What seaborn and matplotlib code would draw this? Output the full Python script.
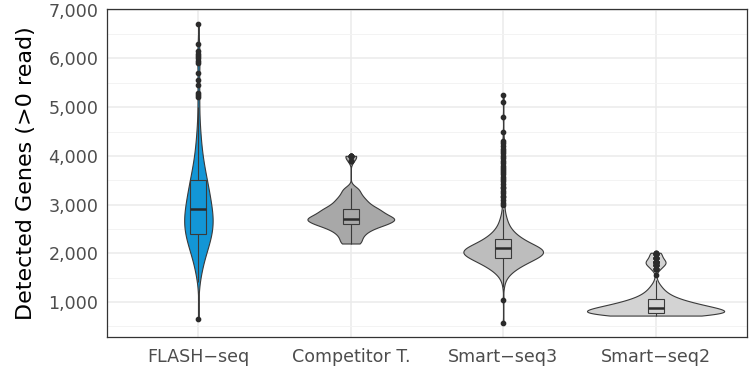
import numpy as np
import pandas as pd
import seaborn as sns
import matplotlib
matplotlib.use('Agg')
import matplotlib.pyplot as plt
from matplotlib.ticker import FixedLocator

# categories and colours
methods = ['FLASH\u2212seq', 'Competitor T.', 'Smart\u2212seq3', 'Smart\u2212seq2']
fill_colors = ['#1396d6', '#a8a8a8', '#bdbdbd', '#d3d3d3']

# detected genes per cell as (value, number of cells)
flash_vals = [650, 1400, 1500, 1600, 1700, 1800, 1900, 2000, 2100, 2200, 2300, 2400, 2500,
              2600, 2700, 2800, 2900, 3000, 3100, 3200, 3300, 3400, 3500, 3600, 3700, 3800,
              3900, 4000, 4100, 4200, 4300, 4400, 4500, 4600, 4700, 4800, 4900, 5000,
              5200, 5250, 5300, 5450, 5550, 5700, 5900, 5950, 6000, 6050, 6100, 6150, 6300, 6700]
flash_counts = [1, 1, 2, 3, 4, 5, 6, 8, 10, 12, 13, 14, 16,
                16, 16, 15, 15, 13, 13, 12, 11, 10, 9, 8, 7, 6,
                5, 4, 4, 3, 3, 2, 2, 2, 1, 1, 1, 1,
                1, 1, 1, 1, 1, 1, 1, 1, 1, 1, 1, 1, 1, 1]

comp_vals = [2200, 2300, 2400, 2500, 2600, 2700, 2800, 2900, 3000, 3100, 3200, 3300, 3350,
             3900, 4000]
comp_counts = [10, 10, 13, 20, 34, 44, 32, 27, 18, 14, 10, 7, 3,
               3, 7]

ss3_vals = [570, 1040, 1300, 1400, 1500, 1600, 1700, 1800, 1900, 2000, 2100, 2200, 2300,
            2400, 2500, 2600, 2700, 2800, 2900,
            3000, 3040, 3100, 3150, 3180, 3230, 3280, 3330, 3370, 3420, 3480, 3520, 3570,
            3620, 3660, 3710, 3760, 3800, 3850, 3900, 3950, 3990, 4050, 4100, 4140, 4200,
            4260, 4300, 4480, 4800, 5100, 5250]
ss3_counts = [1, 1, 1, 2, 5, 11, 20, 32, 46, 58, 54, 38, 26,
              17, 11, 7, 5, 3, 2,
              1, 1, 1, 1, 1, 1, 1, 1, 1, 1, 1, 1, 1,
              1, 1, 1, 1, 1, 1, 1, 1, 1, 1, 1, 1, 1,
              1, 1, 1, 1, 1, 1]

ss2_vals = [720, 770, 820, 870, 920, 970, 1020, 1070, 1120, 1170, 1220, 1270, 1320, 1370,
            1450, 1560, 1680, 1760, 1820, 1900, 1990, 2010]
ss2_counts = [42, 54, 52, 44, 36, 28, 22, 16, 12, 9, 7, 5, 4, 3,
              2, 1, 6, 8, 12, 8, 6, 3]

ytick_vals = [1000, 2000, 3000, 4000, 5000, 6000, 7000]
ytick_labels = ['1,000', '2,000', '3,000', '4,000', '5,000', '6,000', '7,000']
yminor_vals = [500, 1500, 2500, 3500, 4500, 5500, 6500]

frames = []
for name, v, c in zip(methods,
                      [flash_vals, comp_vals, ss3_vals, ss2_vals],
                      [flash_counts, comp_counts, ss3_counts, ss2_counts]):
    frames.append(pd.DataFrame({'method': name, 'genes': np.repeat(v, c)}))
df = pd.concat(frames, ignore_index=True)


def nrd0(kde):
    # R's default bandwidth (what ggplot uses), returned as scipy factor
    x = kde.dataset[0]
    sd = x.std(ddof=1)
    q75, q25 = np.percentile(x, [75, 25])
    h = 0.9 * min(sd, (q75 - q25) / 1.34) * len(x) ** -0.2
    return h / sd


sns.set_theme(style='white')
plt.rcParams['font.family'] = ['DejaVu Sans']

fig = plt.figure(figsize=(7.56, 3.72), dpi=100)
ax = fig.add_axes([0.1415, 0.0941, 0.8466, 0.8804])

pal = dict(zip(methods, fill_colors))
sns.violinplot(data=df, x='method', y='genes', hue='method', palette=pal, order=methods,
               cut=0, inner=None, density_norm='area', common_norm=True, width=0.9,
               bw_method=nrd0, gridsize=400, linewidth=0.8, linecolor='#3a3a3a',
               saturation=1, legend=False, ax=ax)
sns.boxplot(data=df, x='method', y='genes', hue='method', palette=pal, order=methods,
            width=0.105, linewidth=0.8, linecolor='#3a3a3a', saturation=1,
            whis=1.5, fliersize=3.1, legend=False,
            flierprops=dict(marker='o', markerfacecolor='#2b2b2b', markeredgecolor='#2b2b2b'),
            medianprops=dict(linewidth=1.8, color='#2b2b2b'),
            capprops=dict(visible=False), ax=ax)

ax.set_xlim(-0.6, 3.6)
ax.set_ylim(280, 7006)
ax.yaxis.set_major_locator(FixedLocator(ytick_vals))
ax.set_yticklabels(ytick_labels)
ax.yaxis.set_minor_locator(FixedLocator(yminor_vals))

ax.set_axisbelow(True)
ax.grid(which='major', color='#ebebeb', linewidth=1.1)
ax.grid(which='minor', axis='y', color='#f3f3f3', linewidth=0.7)
for s in ax.spines.values():
    s.set_color('#333333')
    s.set_linewidth(0.9)

ax.tick_params(axis='both', which='major', direction='out', length=3.2, width=0.8,
               color='#333333', labelcolor='#4d4d4d', labelsize=12.6, pad=3)
ax.tick_params(axis='x', pad=5)
ax.tick_params(which='minor', length=0)
ax.set_xlabel('')
ax.set_ylabel('Detected Genes (>0 read)', fontsize=16, color='black', labelpad=9)

fig.savefig('out.png', dpi=100, facecolor='white')
